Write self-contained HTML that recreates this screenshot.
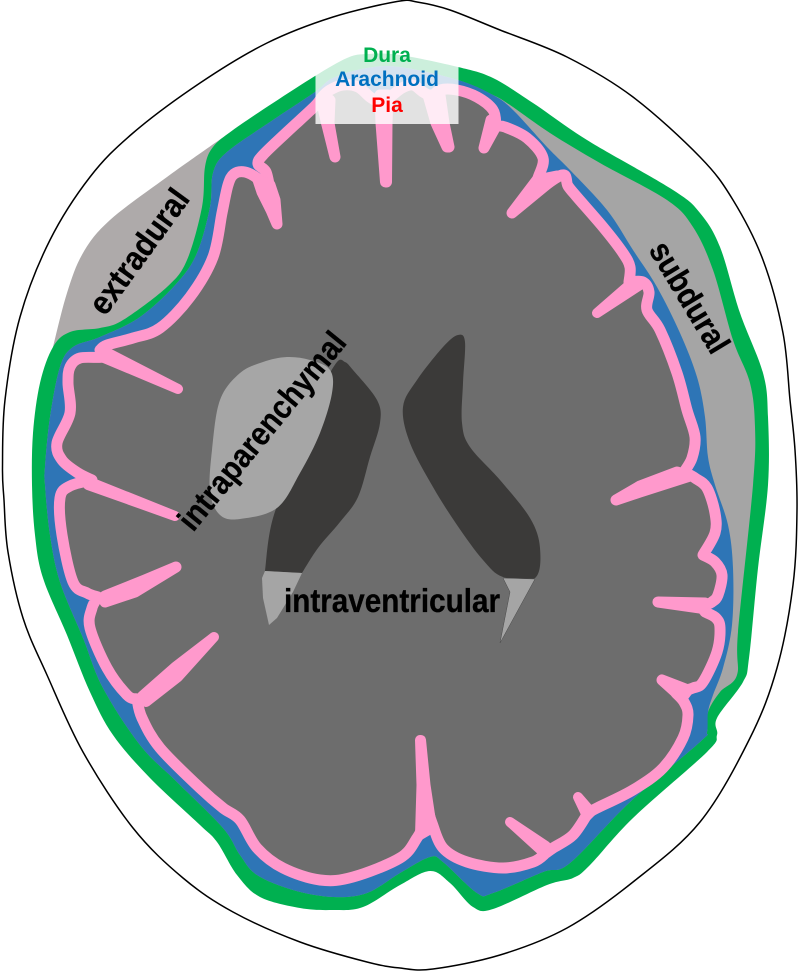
<!DOCTYPE html>
<html lang="en">
<head>
<meta charset="utf-8">
<title>Meninges diagram</title>
<style>
html,body{margin:0;padding:0;background:#fff}
svg{display:block}
text{font-family:"Liberation Sans",Arial,sans-serif;font-weight:bold}
</style>
</head>
<body>
<svg xmlns="http://www.w3.org/2000/svg" width="800" height="971" viewBox="0 0 800 971">
<rect width="800" height="971" fill="#fff"/>
<!-- skull -->
<path class="s" fill="#fff" stroke="#000" stroke-width="1.5" d="M397 1.500 L333 17 L267 43 L200 83 L133 133 L90 177 L50 240 L20 317 L5 400 L2.500 467 L4 500 L8 552 L23 618 L47 675 L83 752 L133 828 L183 878 L233 912 L300 942 L367 962 L400 968 L433 969 L500 955 L567 928 L633 882 L700 822 L750 738 L777 668 L793 585 L797 510 L795 450 L790 400 L783 333 L763 260 L733 200 L700 157 L633 97 L567 57 L500 30 L450 10 L417 2 Z"/>
<!-- extradural -->
<path class="s" fill="#aeaaaa" d="M232 131 L232 131 L167 177 L110 220 L83 253 L67 293 L53 347 L53 347 L60 345 L100 335 L135 322 L195 258 L210 207 L215 150 Z"/>
<!-- dura -->
<path class="s" fill="#00b050" d="M367 54 L347 58 L315 76 L273 103 L233 130 L213 147 L205 167 L202 207 L187 260 L167 287 L123 320 L100 328 L70 332 L53 347 L40 383 L33 433 L32 485 L35 535 L43 578 L67 635 L90 692 L113 735 L150 778 L200 825 L217 842 L237 875 L260 897 L300 908 L333 910 L363 907 L400 885 L430 871 L450 883 L473 907 L493 909 L547 885 L573 878 L590 865 L633 818 L707 752 L717 735 L717 718 L743 682 L749 658 L758 568 L768 485 L768 417 L763 373 L740 313 L720 247 L700 213 L673 190 L587 140 L533 103 L493 78 L458 67 L400 55 Z"/>
<!-- subdural -->
<path class="s" fill="#a5a5a5" d="M367 68 L333 78 L315 92 L273 120 L227 152 L213 173 L210 207 L197 253 L177 283 L140 317 L100 337 L73 347 L60 367 L50 417 L45 467 L45 485 L50 535 L60 582 L83 638 L103 688 L140 745 L177 782 L223 828 L240 855 L257 875 L293 890 L333 897 L367 893 L400 873 L430 857 L443 862 L477 893 L493 893 L543 872 L570 863 L630 802 L700 742 L707 732 L708 712 L720 692 L737 675 L738 632 L753 485 L755 427 L750 383 L733 340 L713 270 L693 227 L667 200 L600 163 L550 133 L510 105 L493 95 L458 80 L400 67 Z"/>
<!-- arachnoid -->
<path class="s" fill="#2e75b6" d="M367 68 L333 78 L315 92 L273 120 L227 152 L213 173 L210 207 L197 253 L177 283 L140 317 L100 337 L73 347 L60 367 L50 417 L45 467 L45 485 L50 535 L60 582 L83 638 L103 688 L140 745 L177 782 L223 828 L240 855 L257 875 L293 890 L333 897 L367 893 L400 873 L430 857 L443 862 L477 893 L493 893 L543 872 L570 863 L630 802 L700 742 L707 732 L708 712 L713 695 L723 668 L732 625 L733 568 L728 525 L715 485 L708 457 L705 417 L697 377 L680 333 L657 287 L633 250 L607 210 L570 170 L547 147 L513 110 L493 95 L458 80 L400 67 Z"/>
<!-- brain with pia -->
<path class="s" fill="#6d6d6d" stroke="#ff99cc" stroke-width="11" stroke-linejoin="round" d="M358 87 L343 85 L330 90 L322 97 L315 106 L287 132 L263 155 L258 164 L266 172 L270 190 L270 190 L257 178 L245 172 L234 174 L228 185 L222 213 L213 257 L190 297 L160 328 L133 338 L107 345 L100 350 L100 350 L103 357 L80 358 L70 367 L68 383 L70 413 L57 443 L62 460 L78 473 L92 480 L92 480 L70 486 L60 498 L62 535 L73 582 L87 593 L98 597 L98 597 L92 608 L90 628 L107 668 L127 695 L137 699 L137 699 L142 718 L160 748 L200 788 L223 808 L240 820 L257 848 L283 868 L320 880 L353 877 L400 858 L417 838 L425 822 L428 810 L428 810 L432 823 L443 848 L467 862 L503 868 L533 862 L546 853 L546 853 L553 848 L573 835 L588 813 L588 813 L597 808 L633 790 L663 768 L683 738 L688 715 L684 702 L676 693 L676 693 L693 688 L703 682 L717 652 L720 628 L716 618 L705 612 L705 612 L703 607 L712 602 L718 595 L722 575 L715 562 L703 555 L703 555 L715 533 L715 513 L707 488 L695 478 L684 472 L684 472 L692 458 L695 437 L687 410 L677 373 L660 330 L647 310 L649 292 L643 282 L629 282 L629 282 L630 267 L623 253 L603 227 L577 197 L568 186 L562 175 L532 195 L532 195 L538 178 L543 158 L527 138 L505 127 L496 126 L496 126 L493 110 L477 97 L457 90 L440 90 L432 97 L432 97 L423 92 L413 85 L402 88 L390 97 L380 103 L380 103 L370 97 Z"/>
<!-- gyral fingers -->
<g fill="#ff99cc" stroke="#ff99cc" stroke-linejoin="round" stroke-linecap="round">
<path stroke-width="11" d="M277 224 L275 200 L270 185 L258 180 L262 192 L271 210 Z"/>
<path stroke-width="10" d="M178 389 L108 353 L104 358 Z"/>
<path stroke-width="10" d="M175 516 L90 482 L88 485 Z"/>
<path stroke-width="11" d="M176 567 L145 580 L105 596 L105 602 L135 592 Z"/>
<path stroke-width="10" d="M214 637 L175 667 L142 696 L146 702 L178 677 Z"/>
<path stroke-width="10" d="M420 740 L421 740 L425.500 785 L432 828 L420 835 L421.500 785 Z"/>
<path stroke-width="10" d="M510 822 L546 846 L542 851 Z"/>
<path stroke-width="10" d="M578 797 L591 812 L587 816 Z"/>
<path stroke-width="11" d="M662 680 L688 690 L682 698 Z"/>
<path stroke-width="11" d="M658 602 L705 603 L700 608 Z"/>
<path stroke-width="11" d="M616 500 L640 486 L677 472 L690 476 L640 492 Z"/>
<path stroke-width="10" d="M597 313 L628 286 L640 285 Z"/>
<path stroke-width="11" d="M512 213 L537 180 L557 176 Z"/>
<path stroke-width="11" d="M484 148 L491 120 L495 128 Z"/>
<path stroke-width="11" d="M428 95 L440 95 L444 123 L449 147 L447 147 L436 123 Z"/>
<path stroke-width="11" d="M380 95 L388 95 L387 123 L386.500 182 L385.500 182 L381 123 Z"/>
<path stroke-width="11" d="M322 103 L330 100 L329 123 L335 157 L326.500 123 Z"/>
</g>
<!-- ventricles -->
<path class="s" fill="#3b3a39" d="M337 362 L345 362 L353 370 L377 400 L380 423 L370 457 L358 497 L340 522 L318 548 L302 573 L302 573 L265 571 L265 571 L273 518 L300 450 L322 390 Z"/>
<path fill="#a5a5a5" d="M265 571 L302 573 L293 592 L277 618 L269 625 L263 598 L262 578 Z"/>
<path class="s" fill="#3b3a39" d="M458 335 L465 342 L463 383 L462 423 L470 447 L500 480 L530 518 L540 548 L535 578 L503 577 L483 560 L457 525 L433 487 L410 443 L403 407 L417 380 L443 347 Z"/>
<path fill="#a5a5a5" stroke="#4a4a4a" stroke-width=".5" d="M503 578 L535 579 L500 643 L510 592 Z"/>
<!-- intraparenchymal hematoma -->
<path class="s" fill="#a6a6a6" d="M287 357 L310 360 L330 370 L332 393 L320 433 L300 473 L277 508 L240 519 L220 515 L210 492 L212 450 L220 400 L240 373 L263 362 Z"/>
<!-- labels -->
<g fill="#000" stroke="#000" stroke-width=".3" font-size="33">
<text transform="translate(148,258) rotate(-54)" text-anchor="middle" textLength="146" lengthAdjust="spacingAndGlyphs">extradural</text>
<text transform="translate(680,303) rotate(59)" text-anchor="middle" textLength="124" lengthAdjust="spacingAndGlyphs">subdural</text>
<text transform="translate(270.500,438) rotate(-50.800)" text-anchor="middle" textLength="245" lengthAdjust="spacingAndGlyphs">intraparenchymal</text>
<text x="392" y="612" text-anchor="middle" textLength="216" lengthAdjust="spacingAndGlyphs">intraventricular</text>
</g>
<rect x="315.500" y="42" width="143" height="82" fill="#fff" fill-opacity=".8"/>
<g font-size="21" text-anchor="middle">
<text x="387" y="62" fill="#00b050">Dura</text>
<text x="387" y="86" fill="#0070c0">Arachnoid</text>
<text x="387" y="112" fill="#ff0000">Pia</text>
</g>
</svg>
<script>
document.querySelectorAll('path.s').forEach(function(el){
  var n=el.getAttribute('d').match(/-?[\d.]+/g).map(Number),p=[],i;
  for(i=0;i<n.length;i+=2)p.push([n[i],n[i+1]]);
  var c=p.length,d='M'+p[0][0]+' '+p[0][1];
  for(i=0;i<c;i++){
    var a=p[(i-1+c)%c],b=p[i],e=p[(i+1)%c],f=p[(i+2)%c];
    if(b[0]==e[0]&&b[1]==e[1])continue;
    var k=1/6;
    if(a[0]==b[0]&&a[1]==b[1])a=b;
    if(f[0]==e[0]&&f[1]==e[1])f=e;
    d+=' C'+(b[0]+(e[0]-a[0])*k).toFixed(1)+' '+(b[1]+(e[1]-a[1])*k).toFixed(1)+' '+
       (e[0]-(f[0]-b[0])*k).toFixed(1)+' '+(e[1]-(f[1]-b[1])*k).toFixed(1)+' '+e[0]+' '+e[1];
  }
  el.setAttribute('d',d+'Z');
});
</script>
</body>
</html>
